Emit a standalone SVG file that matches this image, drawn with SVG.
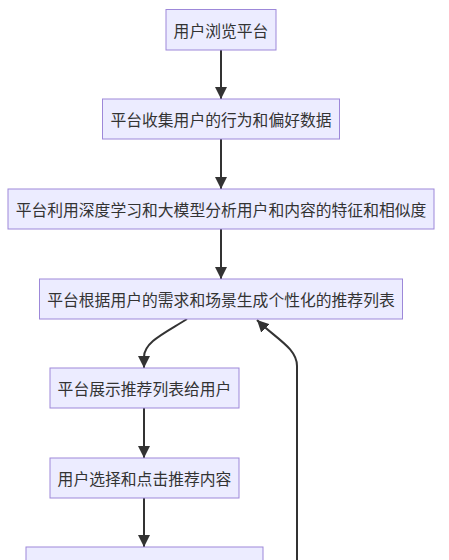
<svg xmlns="http://www.w3.org/2000/svg" width="449" height="560" viewBox="0 0 449 560">
<defs>
<style>
.node rect{fill:#ECECFF;stroke:#9d88d9;stroke-width:1}
.node text{font-family:"Noto Sans CJK SC","Liberation Sans",sans-serif;font-size:15.8px;fill:#333;text-anchor:middle;dominant-baseline:central}
.edge{fill:none;stroke:#333;stroke-width:2}
</style>
<marker id="arrow" viewBox="0 0 10 10" refX="10" refY="5" markerUnits="userSpaceOnUse" markerWidth="12" markerHeight="12" orient="auto">
<path d="M0,0 L10,5 L0,10 z" fill="#333"/>
</marker>
</defs>
<rect width="449" height="560" fill="#ffffff"/>
<g id="connectors">
<path class="edge" d="M221,50 L221,99" marker-end="url(#arrow)"/>
<path class="edge" d="M221,139 L221,189" marker-end="url(#arrow)"/>
<path class="edge" d="M221,229 L221,279" marker-end="url(#arrow)"/>
<path class="edge" d="M187,319 C165,333 144,342 144,357 L144,368" marker-end="url(#arrow)"/>
<path class="edge" d="M144,408 L144,458" marker-end="url(#arrow)"/>
<path class="edge" d="M144,498 L144,547" marker-end="url(#arrow)"/>
<path class="edge" d="M297,562 L297,366 C297,348 275,338 257,320" marker-end="url(#arrow)"/>
</g>
<g id="n1" class="node"><rect x="166" y="9.5" width="110" height="40.5"/><text x="221" y="30">用户浏览平台</text></g>
<g id="n2" class="node"><rect x="102.5" y="99" width="237" height="40"/><text x="221" y="119">平台收集用户的行为和偏好数据</text></g>
<g id="n3" class="node"><rect x="8" y="189" width="426" height="40"/><text x="221" y="209">平台利用深度学习和大模型分析用户和内容的特征和相似度</text></g>
<g id="n4" class="node"><rect x="39.5" y="279" width="363" height="40"/><text x="221" y="299">平台根据用户的需求和场景生成个性化的推荐列表</text></g>
<g id="n5" class="node"><rect x="50" y="368" width="189" height="40"/><text x="144.5" y="388">平台展示推荐列表给用户</text></g>
<g id="n6" class="node"><rect x="50" y="458" width="189" height="40"/><text x="144.5" y="478">用户选择和点击推荐内容</text></g>
<g id="n7" class="node"><rect x="26" y="547" width="237" height="40"/><text x="144.5" y="567">平台收集用户的反馈和行为数据</text></g>
</svg>
